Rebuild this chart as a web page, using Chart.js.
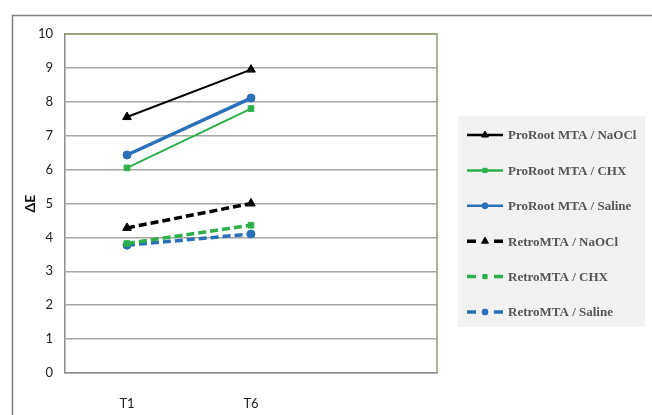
<!DOCTYPE html>
<html>
<head>
<meta charset="utf-8">
<script src="https://cdn.jsdelivr.net/npm/chart.js@4.4.1/dist/chart.umd.min.js"></script>
<style>
    html, body { margin: 0; padding: 0; background: #fff; }
    #wrap { width: 652px; height: 415px; }
</style>
</head>
<body>
<div id="wrap"><canvas id="deltaE"></canvas></div>
<script>
// time points (third slot is empty, as in the original sheet)
const times = ["T1", "T6", ""];

const seriesNames = [
    "ProRoot MTA / NaOCl",
    "ProRoot MTA / CHX",
    "ProRoot MTA / Saline",
    "RetroMTA / NaOCl",
    "RetroMTA / CHX",
    "RetroMTA / Saline"
];

const proRootNaOCl = [7.55, 8.95];
const proRootCHX = [6.05, 7.8];
const proRootSaline = [6.43, 8.11];
const retroNaOCl = [4.28, 5.0];
const retroCHX = [3.82, 4.36];
const retroSaline = [3.77, 4.1];

const yTicks = [0, 1, 2, 3, 4, 5, 6, 7, 8, 9, 10];

const black = "#000000", green = "#2bb04a", blue = "#2a70b8";

function series(i, values, color, marker, width, dashed) {
    return {
        label: seriesNames[i],
        data: values,
        borderColor: color,
        backgroundColor: color,
        borderWidth: width,
        borderDash: dashed ? [8, 4] : [],
        pointStyle: marker,
        pointRadius: marker === "triangle" ? 5 : 4,
        pointBorderWidth: 1,
        tension: 0
    };
}

// grey frame round the whole picture and olive edge of the plot area
const frame = {
    id: "frame",
    beforeDraw(chart) {
        const ctx = chart.ctx;
        ctx.save();
        ctx.strokeStyle = "#7f7f7f";
        ctx.lineWidth = 1.5;
        ctx.strokeRect(12.5, 15.5, 700, 500);
        ctx.restore();
    },
    afterDatasetsDraw(chart) {
        const a = chart.chartArea, ctx = chart.ctx;
        ctx.save();
        ctx.strokeStyle = "#8f9f6a";
        ctx.lineWidth = 1.5;
        ctx.beginPath();
        ctx.moveTo(a.left, a.top);
        ctx.lineTo(a.right, a.top);
        ctx.lineTo(a.right, a.bottom);
        ctx.stroke();
        ctx.restore();
    }
};

// legend in its grey box, drawn from the datasets
const sideLegend = {
    id: "sideLegend",
    afterDraw(chart) {
        const ctx = chart.ctx;
        ctx.save();
        ctx.fillStyle = "#f2f2f2";
        ctx.fillRect(458, 116, 187, 211);
        chart.data.datasets.forEach((ds, i) => {
            const y = 135 + i * 35.4;
            ctx.strokeStyle = ds.borderColor;
            ctx.lineWidth = ds.borderDash.length ? 3.5 : 2.5;
            if (ds.borderDash.length) {
                ctx.setLineDash([9, 18]);
            } else {
                ctx.setLineDash([]);
            }
            ctx.beginPath();
            ctx.moveTo(467, y);
            ctx.lineTo(503, y);
            ctx.stroke();
            ctx.setLineDash([]);
            ctx.lineWidth = 1;
            ctx.fillStyle = ds.backgroundColor;
            Chart.helpers.drawPoint(ctx, {
                pointStyle: ds.pointStyle,
                radius: ds.pointStyle === "triangle" ? 4 : 3,
                rotation: 0,
                borderWidth: 1
            }, 485, y);
            ctx.fillStyle = "#555555";
            ctx.font = "bold 13px 'Liberation Serif'";
            ctx.textBaseline = "middle";
            ctx.fillText(ds.label, 508, y + 1);
        });
        ctx.restore();
    }
};

new Chart("deltaE", {
    type: "line",
    data: {
        labels: times,
        datasets: [
            series(0, proRootNaOCl, black, "triangle", 2, false),
            series(1, proRootCHX, green, "rect", 2, false),
            series(2, proRootSaline, blue, "circle", 3.5, false),
            series(3, retroNaOCl, black, "triangle", 3.5, true),
            series(4, retroCHX, green, "rect", 3.5, true),
            series(5, retroSaline, blue, "circle", 3.5, true)
        ]
    },
    options: {
        responsive: true,
        maintainAspectRatio: false,
        animation: false,
        layout: {
            padding: { left: 22, top: 34, right: 215, bottom: 0 }
        },
        plugins: {
            legend: { display: false },
            tooltip: { enabled: false }
        },
        scales: {
            x: {
                offset: true,
                grid: { display: false },
                border: { color: "#8c8c8c", width: 1.5 },
                ticks: {
                    color: "#222",
                    padding: 15,
                    font: { family: "Lato", size: 13 }
                },
                afterFit: (scale) => { scale.height = 42; }
            },
            y: {
                min: 0,
                max: 10,
                afterBuildTicks: (scale) => {
                    scale.ticks = yTicks.map(v => ({ value: v }));
                },
                grid: { color: "#a6a6a6", lineWidth: 1.5, drawTicks: false },
                border: { color: "#8c8c8c", width: 1.5 },
                ticks: {
                    color: "#222",
                    padding: 12,
                    font: { family: "Lato", size: 13 }
                },
                title: {
                    display: true,
                    text: "ΔE",
                    color: "#111",
                    padding: 0,
                    font: { family: "Lato", size: 14, weight: "bold" }
                },
                afterFit: (scale) => { scale.width = 43; }
            }
        }
    },
    plugins: [frame, sideLegend]
});
</script>
</body>
</html>
